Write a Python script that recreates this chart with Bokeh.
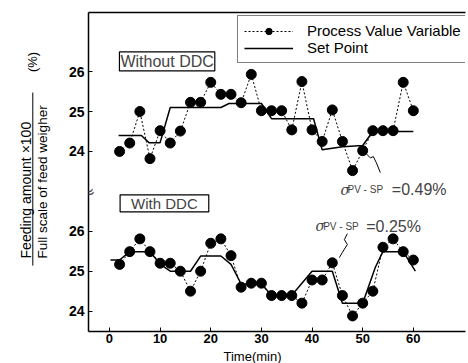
import math
from bokeh.plotting import figure
from bokeh.layouts import row, column
from bokeh.models import FixedTicker, LinearAxis, Label, Legend, LegendItem, Range1d
from bokeh.core.properties import value
from bokeh.embed import file_html
from bokeh.resources import INLINE

# ---------------- data ----------------
time_min = [2, 4, 6, 8, 10, 12, 14, 16, 18, 20, 22, 24, 26, 28, 30,
            32, 34, 36, 38, 40, 42, 44, 46, 48, 50, 52, 54, 56, 58, 60]

pv_without = [24.00, 24.21, 25.00, 23.82, 24.52, 24.21, 24.51, 25.23, 25.23, 25.73,
              25.43, 25.43, 25.22, 25.93, 25.02, 25.02, 25.02, 24.54, 25.75, 24.54,
              24.25, 25.04, 24.25, 23.52, 24.02, 24.52, 24.52, 24.52, 25.73, 25.02]
sp_without_t = [1.8, 6.3, 7.8, 10, 12, 22, 23.6, 30, 32, 40.3, 42, 46, 50, 52, 60]
sp_without_v = [24.4, 24.4, 24.22, 24.22, 25.1, 25.1, 25.2, 25.2, 24.82, 24.82,
                24.04, 24.12, 24.15, 24.5, 24.5]

pv_with = [25.17, 25.49, 25.81, 25.49, 25.20, 25.20, 25.00, 24.50, 25.00, 25.70,
           25.81, 25.39, 24.60, 24.70, 24.70, 24.39, 24.39, 24.39, 24.20, 24.78,
           24.78, 25.21, 24.39, 23.88, 24.20, 24.50, 25.60, 25.81, 25.49, 25.28]
sp_with_t = [0.2, 2, 4, 8, 10, 12, 16, 18, 22, 24, 26, 30, 32, 36, 40, 44, 46,
             50, 52.5, 54, 58, 60.4]
sp_with_v = [25.28, 25.28, 25.49, 25.49, 25.18, 25.0, 25.0, 25.38, 25.38, 25.17,
             24.68, 24.68, 24.4, 24.4, 25.0, 25.0, 24.2, 24.2, 25.1, 25.49, 25.49, 25.0]

y_tick_values = [24, 25, 26]
x_tick_values = [0, 10, 20, 30, 40, 50, 60]
panel_offset = 4  # the "Without DDC" panel sits 4 units above on the broken axis

sigma_without = "=0.49%"
sigma_with = "=0.25%"

SANS = "Liberation Sans"
MAIN_H = 348
STRIP_H = 15

# ---------------- main figure ----------------
p = figure(width=406, height=MAIN_H, x_range=Range1d(-4.14, 70.3),
           y_range=Range1d(23.49, 31.48), output_backend="svg",
           toolbar_location=None, min_border_left=26, min_border_right=3,
           min_border_top=12, min_border_bottom=17)
p.xgrid.visible = False
p.ygrid.visible = False
p.outline_line_color = None

p.xaxis.ticker = FixedTicker(ticks=x_tick_values)
p.yaxis.ticker = FixedTicker(ticks=y_tick_values + [v + panel_offset for v in y_tick_values])
p.yaxis.major_label_overrides = {v + panel_offset: str(v) for v in y_tick_values}
for ax in (p.xaxis[0], p.yaxis[0]):
    ax.axis_line_color = "black"
    ax.axis_line_width = 1.5
    ax.major_tick_in = 4
    ax.major_tick_out = 0
    ax.minor_tick_line_color = None
    ax.major_tick_line_color = "black"
    ax.major_label_text_font = SANS
    ax.major_label_text_font_style = "bold"
    ax.major_label_text_font_size = "14px"
    ax.major_label_text_color = "black"
    ax.major_label_standoff = 4
p.xaxis.major_label_text_font_size = "13px"
p.xaxis.major_label_standoff = 2

# top frame line (an axis with no ticks or labels)
top_axis = LinearAxis(ticker=FixedTicker(ticks=[]), axis_line_color="black",
                      axis_line_width=1.5, major_tick_line_color=None,
                      minor_tick_line_color=None, major_label_standoff=0,
                      major_tick_out=0, major_tick_in=0)
p.add_layout(top_axis, "above")

# ---------------- series ----------------
y_top = [v + panel_offset for v in pv_without]
pv1_line = p.line(time_min, y_top, line_color="black", line_width=1, line_dash="2 2")
pv1_dots = p.scatter(time_min, y_top, size=10, color="black")
sp1 = p.line(sp_without_t, [v + panel_offset for v in sp_without_v],
             line_color="black", line_width=1.5)

p.line(time_min, pv_with, line_color="black", line_width=1, line_dash="2 2")
p.scatter(time_min, pv_with, size=10, color="black")
p.line(sp_with_t, sp_with_v, line_color="black", line_width=1.5)

# ---------------- legend ----------------
legend = Legend(items=[
    LegendItem(label="Process Value Variable", renderers=[pv1_line, pv1_dots]),
    LegendItem(label="Set Point", renderers=[sp1]),
], location=(149, 268))
legend.border_line_color = "black"
legend.border_line_width = 1
legend.background_fill_color = "white"
legend.background_fill_alpha = 1
legend.label_text_font = SANS
legend.label_text_font_size = "15px"
legend.label_text_color = "black"
legend.glyph_width = 49
legend.glyph_height = 16
legend.label_height = 16
legend.label_standoff = 14
legend.padding = 6
legend.spacing = 0
legend.margin = 0
p.add_layout(legend)

# ---------------- panel labels ----------------
p.add_layout(Label(x=1.97, y=30.255, text="Without DDC", text_font=SANS,
                   text_font_size="16px", text_baseline="middle", text_align="left",
                   border_line_color="black", border_line_width=1.2,
                   background_fill_color="white", padding=1))
p.add_layout(Label(x=2.1, y=26.70, text="With DDC", text_font=SANS,
                   text_font_size="15px", text_baseline="middle", text_align="left",
                   border_line_color="black", border_line_width=1.2,
                   background_fill_color="white", padding=(11, 0)))

# sigma annotations
for (xs, xp, xe, yb, val) in [(45.6, 47.0, 55.75, 27.035, sigma_without),
                              (40.66, 42.2, 50.7, 26.12, sigma_with)]:
    p.add_layout(Label(x=xs, y=yb, text="σ", text_font="DejaVu Serif",
                       text_font_style="italic", text_font_size="14px",
                       text_baseline="alphabetic"))
    p.add_layout(Label(x=xp, y=yb, text="PV - SP", text_font=SANS,
                       text_font_size="10px", text_baseline="alphabetic"))
    p.add_layout(Label(x=xe, y=yb, text=val, text_font=SANS,
                       text_font_size="16px", text_baseline="alphabetic"))

# squiggly leader lines
p.line([50.72, 51.51, 52.10, 52.69, 53.48], [27.94, 27.84, 27.87, 27.72, 27.47],
       line_color="black", line_width=1)
p.line([46.97, 46.38, 46.97, 45.98, 45.39], [25.94, 25.79, 25.67, 25.47, 25.34],
       line_color="black", line_width=1)

# axis break mark
p.add_layout(Label(x=-4.14, y=26.97, text="≈", text_align="center",
                   text_baseline="middle", angle=0.35, text_font_size="16px",
                   text_font="DejaVu Sans"))

# ---------------- y title (fraction), left strip ----------------
left = figure(width=62, height=MAIN_H, x_range=Range1d(0, 62), y_range=p.y_range,
              x_axis_type=None, y_axis_type=None, output_backend="svg",
              toolbar_location=None, min_border_left=0, min_border_right=0,
              min_border_top=12, min_border_bottom=17)
left.xgrid.visible = False
left.ygrid.visible = False
left.outline_line_color = None
left.text(x=[25], y=[25.32], text=["Feeding amount ×100"], angle=math.pi / 2,
          text_align="left", text_baseline="middle",
          text_font=value(SANS), text_font_size="14px", text_color="black")
left.text(x=[41.7], y=[25.32], text=["Full scale of feed weigher"], angle=math.pi / 2,
          text_align="left", text_baseline="middle",
          text_font=value(SANS), text_font_size="13.5px", text_color="black")
left.segment(x0=[32.3], y0=[25.14], x1=[32.3], y1=[29.475], line_color="black", line_width=1)
left.text(x=[32], y=[30.24], text=["(%)"], angle=math.pi / 2,
          text_align="center", text_baseline="middle",
          text_font=value(SANS), text_font_size="13px", text_color="black")

# ---------------- x title, bottom strip ----------------
bottom = figure(width=468, height=STRIP_H, x_range=Range1d(0, 468), y_range=Range1d(0, STRIP_H),
                x_axis_type=None, y_axis_type=None, output_backend="svg",
                toolbar_location=None, min_border=0)
bottom.xgrid.visible = False
bottom.ygrid.visible = False
bottom.outline_line_color = None
bottom.text(x=[252], y=[7.5], text=["Time(min)"], text_align="center",
            text_baseline="middle", text_font=value(SANS),
            text_font_size="13px", text_color="black")

layout = column(row(left, p), bottom)
open("out.html", "w").write(file_html(layout, INLINE))
